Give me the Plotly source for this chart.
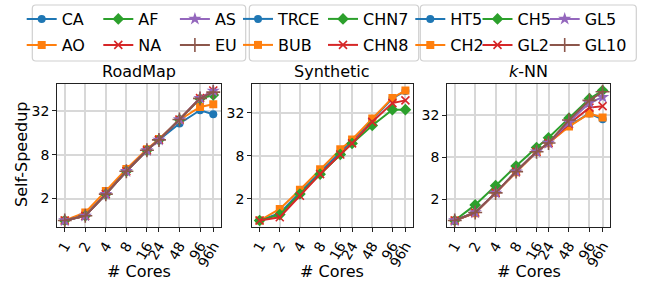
import numpy as np
import plotly.graph_objects as go

# ---------------- data ----------------
cores = [1, 2, 4, 8, 16, 24, 48, 96, 150]          # 96h plotted after 96
core_labels = ["1", "2", "4", "8", "16", "24", "48", "96", "96h"]

panel_titles = ["RoadMap", "Synthetic", "<i>k</i>-NN"]

# RoadMap
road_names = ["CA", "AO", "AF", "NA", "AS", "EU"]
road_CA = [1, 1.16, 2.3, 4.75, 9.2, 12.8, 21.5, 32.7, 28.8]
road_AO = [1, 1.29, 2.55, 5.1, 9.5, 13.2, 24.0, 36.3, 39.4]
road_AF = [1, 1.16, 2.3, 4.75, 9.2, 12.8, 24.4, 47.0, 53.0]
road_NA = [1, 1.16, 2.3, 4.75, 9.2, 12.8, 24.4, 48.0, 61.0]
road_AS = [1, 1.16, 2.3, 4.75, 9.2, 12.8, 24.4, 48.0, 60.0]
road_EU = [1, 1.16, 2.3, 4.75, 9.2, 12.8, 24.4, 47.5, 58.0]

# Synthetic
syn_names = ["TRCE", "BUB", "CHN7", "CHN8"]
syn_TRCE = [1, 1.27, 2.48, 4.8, 9.1, 13.0, 26.0, 51.0, 65.0]
syn_BUB = [1, 1.45, 2.7, 5.2, 9.9, 13.6, 26.7, 52.0, 66.0]
syn_CHN7 = [1, 1.21, 2.35, 4.45, 8.4, 12.0, 21.4, 35.6, 35.6]
syn_CHN8 = [1, 1.11, 2.22, 4.45, 8.4, 12.0, 24.0, 44.0, 48.0]

# k-NN
knn_names = ["HT5", "CH2", "CH5", "GL2", "GL5", "GL10"]
knn_HT5 = [1, 1.3, 2.48, 5.0, 9.6, 12.8, 22.5, 33.8, 28.0]
knn_CH2 = [1, 1.27, 2.48, 4.9, 9.5, 12.7, 22.0, 33.8, 29.6]
knn_CH5 = [1, 1.67, 3.14, 6.0, 11.0, 15.2, 29.0, 55.0, 72.0]
knn_GL2 = [1, 1.3, 2.48, 5.0, 9.6, 12.8, 24.0, 41.0, 43.0]
knn_GL5 = [1, 1.3, 2.48, 5.0, 9.6, 12.8, 25.3, 48.0, 58.0]
knn_GL10 = [1, 1.3, 2.48, 5.0, 9.6, 12.8, 27.3, 52.0, 69.0]

y_ticks = [2, 8, 32]

# ---------------- styles ----------------
FONT = "DejaVu Sans"
colors = ["#1f77b4", "#ff7f0e", "#2ca02c", "#d62728", "#9467bd", "#8c564b"]
symbols = ["circle", "square", "diamond", "x-thin", "star", "cross-thin"]
sizes = [8, 8, 9, 8, 10, 10]

panels = [
    (road_names, [road_CA, road_AO, road_AF, road_NA, road_AS, road_EU]),
    (syn_names, [syn_TRCE, syn_BUB, syn_CHN7, syn_CHN8]),
    (knn_names, [knn_HT5, knn_CH2, knn_CH5, knn_GL2, knn_GL5, knn_GL10]),
]

W, H = 646, 284
x_domains = [(57.3, 220.7), (252.3, 412.7), (447.3, 610.0)]
y_top, y_bot = 84, 227

# legend layout (pixels): first text x, spacing, box, width of last column text
legend_text_x = [61.7, 278.0, 450.3]
legend_spacing = [76.6, 85.0, 67.2]
legend_last_w = [32, 50, 46]
legend_boxes = [(32.3, 245.7), (249.3, 418.7), (420.3, 636.3)]
legend_rows_y = [19, 45]
box_top, box_bot = 5, 61

fig = go.Figure()

for p, (names, series) in enumerate(panels):
    ncol = (len(series) + 1) // 2
    for i, (name, vals) in enumerate(zip(names, series)):
        row = i % 2
        col = i // 2
        leg_id = 2 * p + row + 1
        leg = "legend" if leg_id == 1 else f"legend{leg_id}"
        sym = symbols[i]
        thin = sym.endswith("thin")
        extra = {}
        if col == ncol - 1:
            extra["legendwidth"] = legend_last_w[p]
        fig.add_trace(go.Scatter(
            x=cores, y=vals, name=name, mode="lines+markers",
            line=dict(color=colors[i], width=2),
            marker=dict(symbol=sym, size=sizes[i], color=colors[i],
                        line=dict(color=colors[i], width=1.6 if thin else 0)),
            xaxis=f"x{p + 1}" if p else "x", yaxis=f"y{p + 1}" if p else "y",
            legend=leg, showlegend=True, **extra,
        ))

layout = dict(
    width=W, height=H, margin=dict(l=0, r=0, t=0, b=0),
    paper_bgcolor="white", plot_bgcolor="white",
    font=dict(family=FONT, size=16, color="black"),
    template="none",
    showlegend=True,
)

all_cores_log = np.log10(cores)
xlo, xhi = all_cores_log.min(), all_cores_log.max()
xpad = 0.05 * (xhi - xlo)

def px(x):
    return x / W

def py(y):
    return 1 - y / H

annotations = []
shapes = []
for p, (names, series) in enumerate(panels):
    sfx = "" if p == 0 else str(p + 1)
    d0, d1 = x_domains[p]
    allv = np.log10(np.concatenate([np.asarray(s, float) for s in series]))
    lo, hi = allv.min(), allv.max()
    pad = 0.05 * (hi - lo)
    layout["xaxis" + sfx] = dict(
        domain=[d0 / W, d1 / W], anchor="y" + sfx, type="log",
        range=[xlo - xpad, xhi + xpad],
        tickmode="array", tickvals=cores, ticktext=core_labels, tickangle=-60,
        ticks="outside", ticklen=4, tickwidth=1.2, tickcolor="#222",
        showgrid=True, gridcolor="#d8d8d8", gridwidth=1.5,
        showline=True, linecolor="#222", linewidth=1.3, mirror=True,
        zeroline=False, automargin=False,
        tickfont=dict(size=14, family=FONT, color="black"),
    )
    layout["yaxis" + sfx] = dict(
        domain=[1 - y_bot / H, 1 - y_top / H], anchor="x" + sfx, type="log",
        range=[lo - pad, hi + pad],
        tickmode="array", tickvals=y_ticks, ticktext=[str(t) for t in y_ticks],
        ticks="outside", ticklen=4, tickwidth=1.2, tickcolor="#222",
        showgrid=True, gridcolor="#d8d8d8", gridwidth=1.5,
        showline=True, linecolor="#222", linewidth=1.3, mirror=True,
        zeroline=False, automargin=False,
        tickfont=dict(size=14, family=FONT, color="black"),
    )
    cx = (d0 + d1) / 2 / W
    annotations.append(dict(text=panel_titles[p], x=cx, y=py(71.5), xref="paper", yref="paper",
                            showarrow=False, xanchor="center", yanchor="middle",
                            font=dict(size=16, family=FONT, color="black")))
    annotations.append(dict(text="# Cores", x=cx, y=py(271), xref="paper", yref="paper",
                            showarrow=False, xanchor="center", yanchor="middle",
                            font=dict(size=16, family=FONT, color="black")))
    for row in range(2):
        leg_id = 2 * p + row + 1
        key = "legend" if leg_id == 1 else f"legend{leg_id}"
        layout[key] = dict(
            orientation="h", x=(legend_text_x[p] - 40) / W, xanchor="left",
            y=py(legend_rows_y[row]), yanchor="middle",
            entrywidth=legend_spacing[p] - 45, entrywidthmode="pixels",
            bgcolor="rgba(0,0,0,0)", borderwidth=0,
            font=dict(size=16, family=FONT, color="black"),
            itemsizing="trace", traceorder="normal",
        )
    bx0, bx1 = legend_boxes[p]
    r = 3.5
    path = (f"M {px(bx0 + r)},{py(box_top)} L {px(bx1 - r)},{py(box_top)} "
            f"Q {px(bx1)},{py(box_top)} {px(bx1)},{py(box_top + r)} "
            f"L {px(bx1)},{py(box_bot - r)} Q {px(bx1)},{py(box_bot)} {px(bx1 - r)},{py(box_bot)} "
            f"L {px(bx0 + r)},{py(box_bot)} Q {px(bx0)},{py(box_bot)} {px(bx0)},{py(box_bot - r)} "
            f"L {px(bx0)},{py(box_top + r)} Q {px(bx0)},{py(box_top)} {px(bx0 + r)},{py(box_top)} Z")
    shapes.append(dict(type="path", path=path, xref="paper", yref="paper",
                       line=dict(color="#d0d0d0", width=1.2), fillcolor="white", layer="below"))

annotations.append(dict(text="Self-Speedup", x=px(21), y=py(155), xref="paper", yref="paper",
                        showarrow=False, xanchor="center", yanchor="middle", textangle=-90,
                        font=dict(size=16, family=FONT, color="black")))

layout["annotations"] = annotations
layout["shapes"] = shapes
fig.update_layout(**layout)
fig.write_html("out.html", config={"displayModeBar": False},
               post_script="document.body.style.margin='0px';document.body.style.overflow='hidden';")
